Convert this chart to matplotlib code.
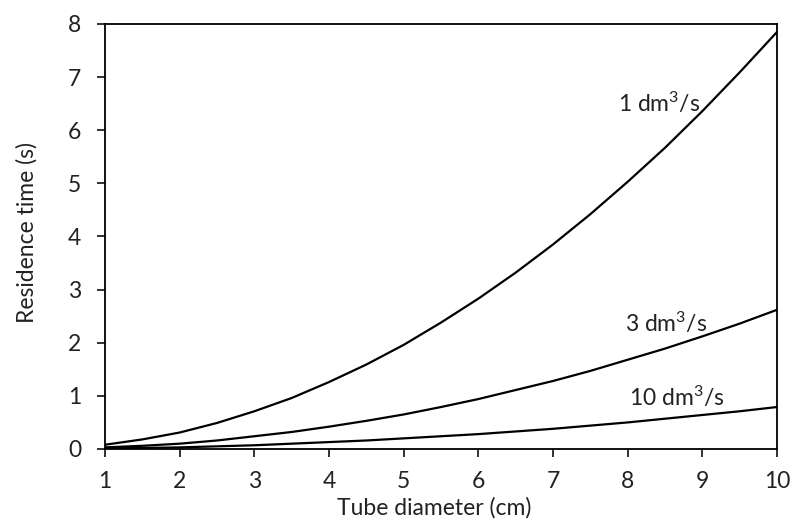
import matplotlib.pyplot as plt

plt.rcParams['font.family'] = ['Lato', 'DejaVu Sans']
plt.rcParams['mathtext.fontset'] = 'custom'
plt.rcParams['mathtext.rm'] = 'Lato'
plt.rcParams['mathtext.it'] = 'Lato'

diameter = [1, 1.5, 2, 2.5, 3, 3.5, 4, 4.5, 5, 5.5, 6, 6.5, 7, 7.5, 8, 8.5, 9, 9.5, 10]
t_1 = [0.08, 0.18, 0.31, 0.49, 0.71, 0.96, 1.26, 1.59, 1.96, 2.38, 2.83, 3.32,
       3.85, 4.42, 5.03, 5.67, 6.36, 7.09, 7.85]
t_3 = [0.03, 0.06, 0.10, 0.16, 0.24, 0.32, 0.42, 0.53, 0.65, 0.79, 0.94, 1.11,
       1.28, 1.47, 1.68, 1.89, 2.12, 2.36, 2.62]
t_10 = [0.01, 0.02, 0.03, 0.05, 0.07, 0.10, 0.13, 0.16, 0.20, 0.24, 0.28, 0.33,
        0.38, 0.44, 0.50, 0.57, 0.64, 0.71, 0.79]
flow_labels = ['1 dm$^\\mathregular{3}$/s', '3 dm$^\\mathregular{3}$/s',
               '10 dm$^\\mathregular{3}$/s']
label_pos = [(8.42, 6.5), (8.51, 2.37), (8.65, 0.98)]

fig = plt.figure(figsize=(7.92, 5.19), dpi=100)
ax = fig.add_axes([0.1326, 0.1349, 0.8485, 0.8189])

for t in (t_1, t_3, t_10):
    ax.plot(diameter, t, color='black', lw=1.6)

for text, (x, y) in zip(flow_labels, label_pos):
    ax.text(x, y, text, ha='center', va='center', fontsize=16.5, color='#222222')

ax.set_xlim(1, 10)
ax.set_ylim(0, 8)
ax.set_xticks(range(1, 11))
ax.set_yticks(range(0, 9))
for s in ax.spines.values():
    s.set_linewidth(1.3)
ax.tick_params(direction='out', length=6, width=1.3, labelsize=16.5,
               colors='#222222')
ax.tick_params(axis='x', pad=10)
ax.tick_params(axis='y', pad=11)
ax.set_xlabel('Tube diameter (cm)', fontsize=16.5, color='#222222', va='center')
ax.set_ylabel('Residence time (s)', fontsize=16.5, color='#222222', va='center')
ax.xaxis.set_label_coords(0.49, -0.139)
ax.yaxis.set_label_coords(-0.116, 0.51)

plt.savefig('out.png', dpi=100)
